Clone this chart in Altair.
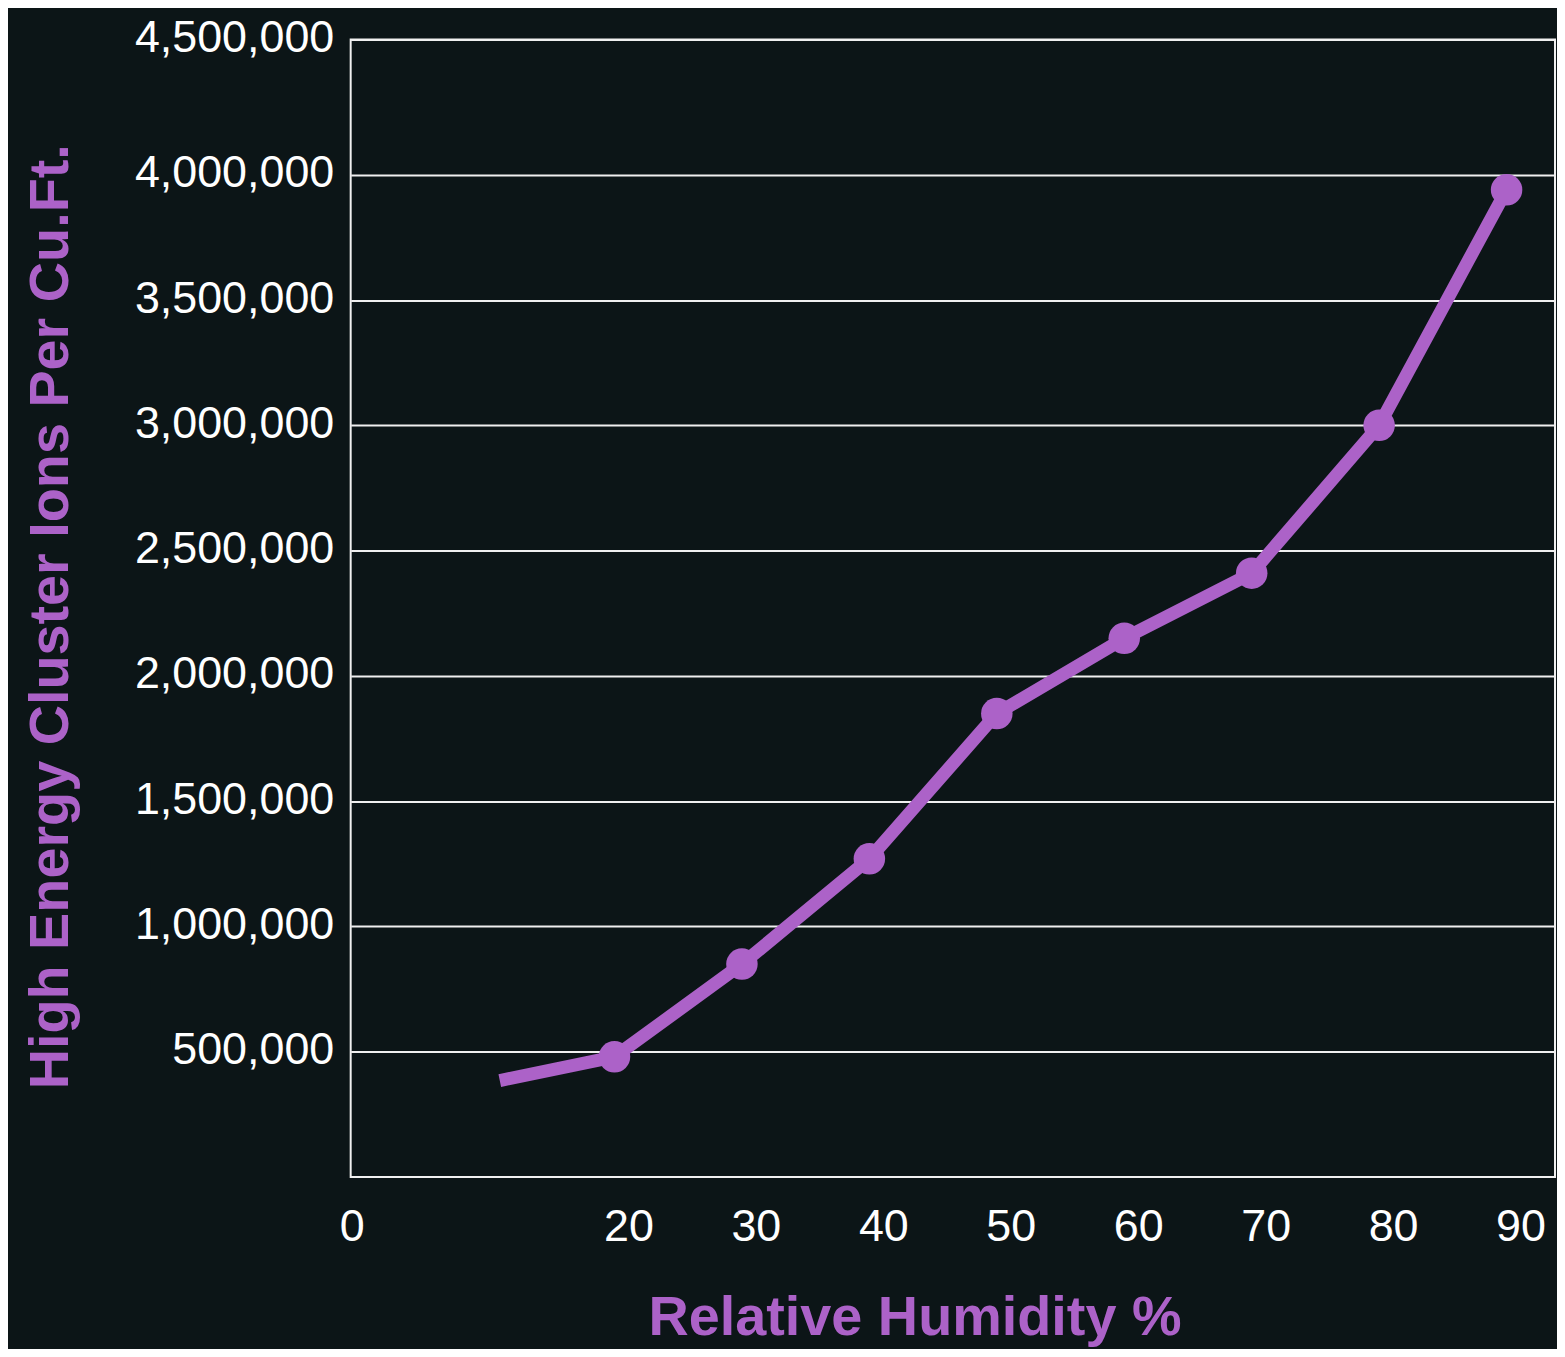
import altair as alt
import pandas as pd

# Data
humidity = [11, 20, 30, 40, 50, 60, 70, 80, 90]
ions = [385000, 480000, 850000, 1270000, 1850000, 2150000, 2410000, 3000000, 3940000]
has_marker = [False, True, True, True, True, True, True, True, True]

x_ticks = [0, 20, 30, 40, 50, 60, 70, 80, 90]
y_ticks = [500000, 1000000, 1500000, 2000000, 2500000, 3000000, 3500000, 4000000, 4540000]

df = pd.DataFrame({"humidity": humidity, "ions": ions, "marker": has_marker})

PURPLE = "#ac62c8"
FONT = "Liberation Sans"

x_enc = alt.X(
    "humidity:Q",
    scale=alt.Scale(domain=[-0.7, 93.8], nice=False, zero=False),
    axis=alt.Axis(
        values=x_ticks,
        title="Relative Humidity %",
        grid=False,
        domain=False,
        ticks=False,
        labelFontSize=45,
        labelFont=FONT,
        labelColor="white",
        labelPadding=28,
        labelOffset={"condition": {"test": "datum.value == 0", "value": -8}, "value": 14},
        labelFlush=False,
        labelOverlap=False,
        titleFont=FONT,
        titleFontSize=56,
        titleFontWeight="bold",
        titleColor=PURPLE,
        titleX=566,
        titleY=158,
        titleAlign="center",
        titleBaseline="alphabetic",
    ),
)

y_enc = alt.Y(
    "ions:Q",
    scale=alt.Scale(domain=[0, 4540000], nice=False),
    axis=alt.Axis(
        values=y_ticks,
        labelExpr="datum.value > 4400000 ? '4,500,000' : format(datum.value, ',')",
        title="High Energy Cluster Ions Per Cu.Ft.",
        grid=True,
        gridColor="#f0f0f0",
        gridWidth=2,
        domain=False,
        ticks=False,
        labelFontSize=45,
        labelFont=FONT,
        labelColor="white",
        labelPadding=17,
        labelOffset=-2,
        labelLimit=400,
        labelFlush=False,
        labelOverlap=False,
        titleFont=FONT,
        titleFontSize=56,
        titleFontWeight="bold",
        titleColor=PURPLE,
        titleAngle=270,
        titleX=-284,
        titleY=579,
        titleAlign="center",
        titleBaseline="alphabetic",
        titleLimit=2000,
    ),
)

base = alt.Chart(df)

line = base.mark_line(color=PURPLE, strokeWidth=13, strokeCap="butt", strokeJoin="round").encode(
    x=x_enc, y=y_enc
)

points = base.transform_filter("datum.marker").mark_circle(
    color=PURPLE, size=1000, opacity=1
).encode(x=x_enc, y=y_enc)

chart = (
    alt.layer(line, points)
    .properties(
        width=1209,
        height=1142,
        autosize=alt.AutoSizeParams(type="none"),
        padding={"left": 344, "top": 29, "right": 2, "bottom": 170},
        background="#0c1517",
    )
    .configure_view(stroke="#f0f0f0", strokeWidth=2)
)

chart.save("out.html", embed_options={"renderer": "svg", "actions": False})
